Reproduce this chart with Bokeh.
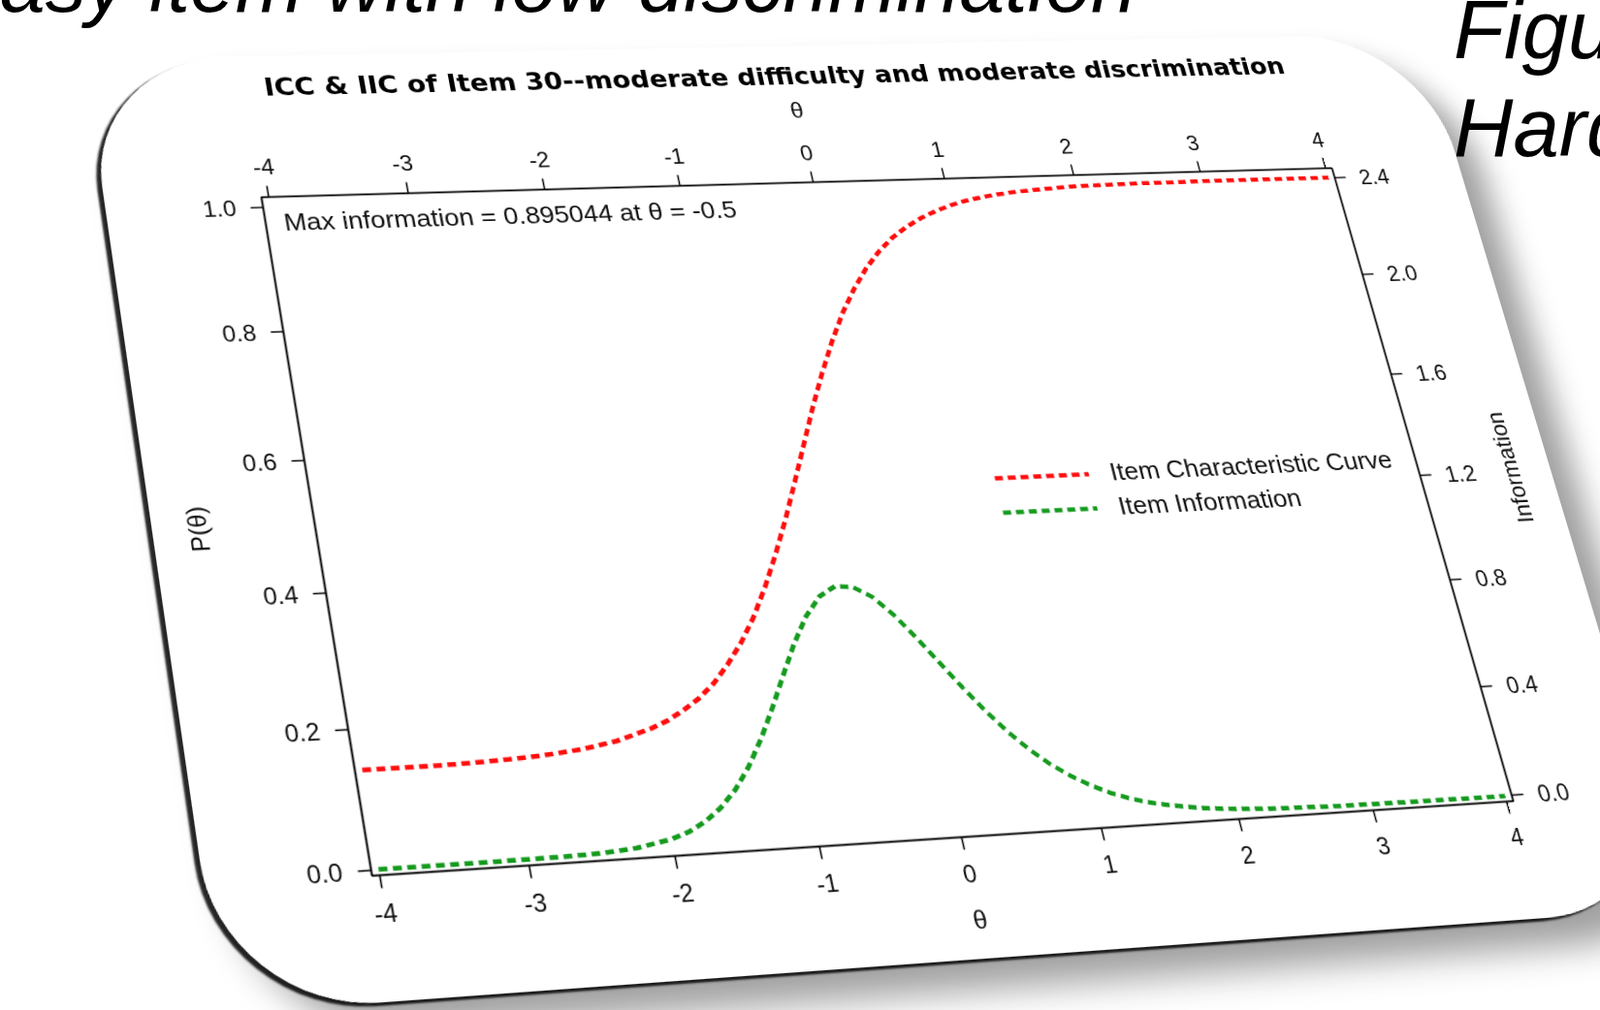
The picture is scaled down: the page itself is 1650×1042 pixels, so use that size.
import math
import numpy as np
from bokeh.plotting import figure
from bokeh.models import (Range1d, LinearAxis, FixedTicker, PrintfTickFormatter,
                          Label, Legend, LegendItem, Div)
from bokeh.layouts import column
from bokeh.embed import file_html
from bokeh.resources import INLINE

# ---------------- data ----------------
theta = [-4, -3.75, -3.5, -3.25, -3, -2.75, -2.5, -2.25, -2, -1.875, -1.75, -1.625,
         -1.5, -1.375, -1.25, -1.125, -1, -0.875, -0.75, -0.625, -0.5, -0.375, -0.25,
         -0.125, 0, 0.125, 0.25, 0.375, 0.5, 0.625, 0.75, 0.875, 1, 1.125, 1.25, 1.375,
         1.5, 1.75, 2, 2.25, 2.5, 2.75, 3, 3.25, 3.5, 3.75, 4]
icc = [0.141, 0.141, 0.141, 0.142, 0.144, 0.147, 0.152, 0.161, 0.176, 0.186, 0.200, 0.216,
       0.237, 0.264, 0.295, 0.332, 0.376, 0.425, 0.478, 0.535, 0.593, 0.651, 0.705,
       0.755, 0.800, 0.838, 0.871, 0.898, 0.920, 0.937, 0.951, 0.962, 0.971, 0.978, 0.983, 0.987,
       0.990, 0.994, 0.997, 0.998, 0.999, 0.999, 1.000, 1.000, 1.000, 1.000, 1.000]
info = [0.000, 0.000, 0.000, 0.000, 0.001, 0.002, 0.005, 0.015, 0.038, 0.059, 0.090, 0.134,
        0.193, 0.270, 0.364, 0.471, 0.585, 0.696, 0.791, 0.859, 0.893, 0.887, 0.847,
        0.778, 0.691, 0.597, 0.503, 0.415, 0.336, 0.269, 0.213, 0.168, 0.131, 0.101, 0.078, 0.060,
        0.047, 0.027, 0.016, 0.009, 0.006, 0.003, 0.002, 0.001, 0.001, 0.000, 0.000]
theta_ticks = [-4, -3, -2, -1, 0, 1, 2, 3, 4]
p_ticks = [0.0, 0.2, 0.4, 0.6, 0.8, 1.0]
info_ticks = [0.0, 0.4, 0.8, 1.2, 1.6, 2.0, 2.4]
chart_title = "ICC & IIC of Item 30--moderate difficulty and moderate discrimination"
max_info_text = "Max information = 0.895044 at \u03b8 = -0.5"
legend_labels = ["Item Characteristic Curve", "Item Information"]
right_axis_title = "Information"
slide_left_text = "Easy item with low discrimination"
slide_right_lines = ["Figu", "Hard"]

# ---------------- layout / styles ----------------
FW, FH = 1100, 680            # flat frame size
BL, BR, BT, BB = 150, 140, 154, 116
W, H = FW + BL + BR, FH + BT + BB
# where the frame corners land on the page (TL, TR, BR, BL)
dst = [(269, 203), (1373, 173), (1560, 826), (383, 903)]
src = [(BL, BT), (BL + FW, BT), (BL + FW, BT + FH), (BL, BT + FH)]

A, B = [], []
for (x, y), (X, Y) in zip(src, dst):
    A.append([x, y, 1, 0, 0, 0, -X * x, -X * y]); B.append(X)
    A.append([0, 0, 0, x, y, 1, -Y * x, -Y * y]); B.append(Y)
hv = list(np.linalg.solve(np.array(A, float), np.array(B, float))) + [1.0]
m = [hv[0], hv[3], 0, hv[6], hv[1], hv[4], 0, hv[7], 0, 0, 1, 0, hv[2], hv[5], 0, hv[8]]
m3d = "matrix3d(" + ",".join("%.10g" % float(v) for v in m) + ")"

RED = "#ff0d0d"
GREEN = "#159a1e"
FONT = "Liberation Sans"

p = figure(width=W, height=H, x_range=Range1d(-4.05, 4.05), y_range=Range1d(-0.008, 1.016),
           output_backend="svg", toolbar_location=None, sizing_mode="fixed",
           min_border_left=BL, min_border_right=BR, min_border_top=BT, min_border_bottom=BB,
           x_axis_location=None, y_axis_location=None, title=chart_title)
p.xgrid.visible = False
p.ygrid.visible = False
p.outline_line_color = "black"
p.outline_line_width = 1.5
p.background_fill_color = "white"
p.border_fill_color = "white"
p.title.text_font = "DejaVu Sans"
p.title.text_font_size = "27px"
p.title.text_font_style = "bold"
p.title.text_color = "black"
p.title.align = "center"
p.title.standoff = 14

p.extra_y_ranges = {"info": Range1d(-0.02, 2.438)}


def style_axis(ax, ticks, fmt, tick_standoff, label_standoff):
    ax.ticker = FixedTicker(ticks=ticks)
    ax.formatter = PrintfTickFormatter(format=fmt)
    ax.axis_line_color = "black"
    ax.axis_line_width = 1.5
    ax.major_tick_line_color = "black"
    ax.major_tick_line_width = 1.5
    ax.major_tick_out = 12
    ax.major_tick_in = 0
    ax.minor_tick_line_color = None
    ax.major_label_text_font = FONT
    ax.major_label_text_font_size = "23px"
    ax.major_label_text_color = "#111111"
    ax.major_label_standoff = tick_standoff
    ax.axis_label_text_font = FONT
    ax.axis_label_text_font_size = "24px"
    ax.axis_label_text_font_style = "normal"
    ax.axis_label_text_color = "#111111"
    ax.axis_label_standoff = label_standoff


ax_b = LinearAxis(axis_label="\u03b8")
style_axis(ax_b, theta_ticks, "%d", 15, 19)
p.add_layout(ax_b, "below")

ax_t = LinearAxis(axis_label="\u03b8")
style_axis(ax_t, theta_ticks, "%d", 12, 23)
p.add_layout(ax_t, "above")

ax_l = LinearAxis(axis_label="P(\u03b8)")
style_axis(ax_l, p_ticks, "%.1f", 14, 34)
p.add_layout(ax_l, "left")

ax_r = LinearAxis(y_range_name="info")
style_axis(ax_r, info_ticks, "%.1f", 15, 30)
p.add_layout(ax_r, "right")

r_icc = p.line(theta, icc, line_color=RED, line_width=4.5, line_dash="8 5")
r_info = p.line(theta, info, y_range_name="info", line_color=GREEN, line_width=4.5, line_dash="8 5")

legend = Legend(items=[LegendItem(label=legend_labels[0], renderers=[r_icc]),
                       LegendItem(label=legend_labels[1], renderers=[r_info])],
                location=(664, 304), margin=0, padding=0, spacing=5,
                glyph_width=96, glyph_height=26, label_height=26, label_standoff=22,
                label_text_font=FONT, label_text_font_size="26px", label_text_color="#111111",
                border_line_color=None, background_fill_alpha=0.0)
p.add_layout(legend)

p.add_layout(Label(x=-3.92, y=0.975, text=max_info_text, text_font=FONT, text_font_size="26px",
                   text_baseline="middle", text_align="left", text_color="#111111"))

# host stays untransformed (so Bokeh measures the flat size); the inner canvas is warped
p.styles = {"position": "absolute", "left": "0px", "top": "0px", "overflow": "visible"}
card_css = (
    ".bk-Canvas {"
    " transform-origin: 0 0 !important;"
    " transform: %s !important;"
    " border-radius: 140px;"
    " overflow: hidden;"
    " background-color: white;"
    " box-shadow: 24px 28px 34px rgba(0,0,0,0.38), -5px 3px 2px rgba(0,0,0,0.85);"
    " }" % m3d
)
p.stylesheets = [card_css]

# right-axis title "Information" (reads bottom-to-top), placed on the same warped plane
info_cx = BL + FW + 97.6
info_cy = BT + 0.497 * FH
overlay_html = (
    '<div style="position:absolute;left:0px;top:0px;width:%dpx;height:%dpx;'
    'transform-origin:0 0;transform:%s;pointer-events:none;">'
    '<span style="position:absolute;left:%.1fpx;top:%.1fpx;'
    'transform:translate(-50%%,-50%%) rotate(-90deg);white-space:nowrap;'
    'font-family:\'Liberation Sans\',Arial,sans-serif;font-size:24px;line-height:1;color:#111111;">'
    '%s</span></div>' % (W, H, m3d, info_cx, info_cy, right_axis_title)
)
overlay = Div(text=overlay_html, width=W, height=H,
              styles={"position": "absolute", "left": "0px", "top": "0px",
                      "overflow": "visible", "pointer-events": "none",
                      "margin": "0px", "padding": "0px"})

# ---------------- slide background (plain HTML text of the slide) ----------------
def slide_span(text, left, baseline, size):
    top = baseline - 0.8465 * size
    return ('<span style="position:absolute;left:%.1fpx;top:%.1fpx;font-size:%dpx;'
            'line-height:1;white-space:nowrap;">%s</span>' % (left, top, size, text))


slide_html = (
    '<div style="position:relative;width:1650px;height:1042px;overflow:hidden;'
    'background:white;font-family:\'Liberation Sans\',Arial,sans-serif;font-style:italic;color:black;">'
    + slide_span(slide_left_text, -56, 12, 84)
    + slide_span(slide_right_lines[0], 1499, 60, 85)
    + slide_span(slide_right_lines[1], 1499, 161, 85)
    + '</div>'
)
bg = Div(text=slide_html, width=1650, height=1042,
         styles={"margin": "0px", "padding": "0px"})

root = column(bg, p, overlay, styles={"position": "relative", "overflow": "hidden",
                                      "width": "1650px", "height": "1042px"})

open("out.html", "w").write(file_html(root, INLINE))
